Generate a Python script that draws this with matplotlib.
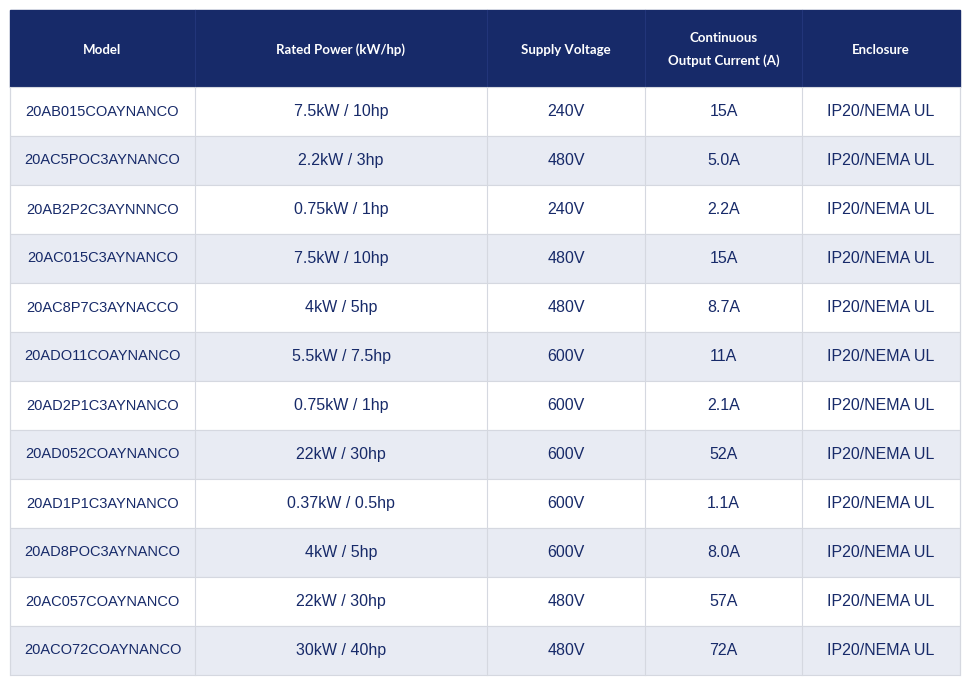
import matplotlib.pyplot as plt
from matplotlib.patches import Rectangle

headers = ["Model", "Rated Power (kW/hp)", "Supply Voltage", "Continuous\nOutput Current (A)", "Enclosure"]
models = ["20AB015COAYNANCO", "20AC5POC3AYNANCO", "20AB2P2C3AYNNNCO", "20AC015C3AYNANCO",
          "20AC8P7C3AYNACCO", "20ADO11COAYNANCO", "20AD2P1C3AYNANCO", "20AD052COAYNANCO",
          "20AD1P1C3AYNANCO", "20AD8POC3AYNANCO", "20AC057COAYNANCO", "20ACO72COAYNANCO"]
power = ["7.5kW / 10hp", "2.2kW / 3hp", "0.75kW / 1hp", "7.5kW / 10hp", "4kW / 5hp", "5.5kW / 7.5hp",
         "0.75kW / 1hp", "22kW / 30hp", "0.37kW / 0.5hp", "4kW / 5hp", "22kW / 30hp", "30kW / 40hp"]
voltage = ["240V", "480V", "240V", "480V", "480V", "600V", "600V", "600V", "600V", "600V", "480V", "480V"]
current = ["15A", "5.0A", "2.2A", "15A", "8.7A", "11A", "2.1A", "52A", "1.1A", "8.0A", "57A", "72A"]
enclosure = ["IP20/NEMA UL"] * 12

columns = [models, power, voltage, current, enclosure]
col_edges = [10, 195, 487, 645, 802, 960]
top, head_h, row_h = 10, 77, 49

navy = "#172a69"
fig = plt.figure(figsize=(9.68, 6.87), dpi=100)
ax = fig.add_axes([0, 0, 1, 1])
ax.set_xlim(0, 968)
ax.set_ylim(687, 0)
ax.axis('off')

ax.add_patch(Rectangle((col_edges[0], top), col_edges[-1] - col_edges[0], head_h, color=navy))
for j, h in enumerate(headers):
    cx = (col_edges[j] + col_edges[j + 1]) / 2
    ax.text(cx, top + head_h / 2 + 1, h, ha='center', va='center', color='white', fontsize=9.5,
            fontweight='bold', family='Lato', linespacing=2.0)
    if j > 0:
        ax.plot([col_edges[j]] * 2, [top, top + head_h], color="#22357a", lw=0.8)

for i in range(len(models)):
    y0 = top + head_h + i * row_h
    bg = "white" if i % 2 == 0 else "#e8ebf3"
    ax.add_patch(Rectangle((col_edges[0], y0), col_edges[-1] - col_edges[0], row_h,
                           facecolor=bg, edgecolor="#d5d8e0", lw=0.8))
    for j, col in enumerate(columns):
        cx = (col_edges[j] + col_edges[j + 1]) / 2
        ax.text(cx, y0 + row_h / 2, col[i], ha='center', va='center', color=navy,
                fontsize=10.5 if j == 0 else 11.5, family='Liberation Sans')
for x in col_edges:
    ax.plot([x, x], [top + head_h, top + head_h + len(models) * row_h], color="#d5d8e0", lw=0.8)

fig.savefig("out.png", dpi=100)
